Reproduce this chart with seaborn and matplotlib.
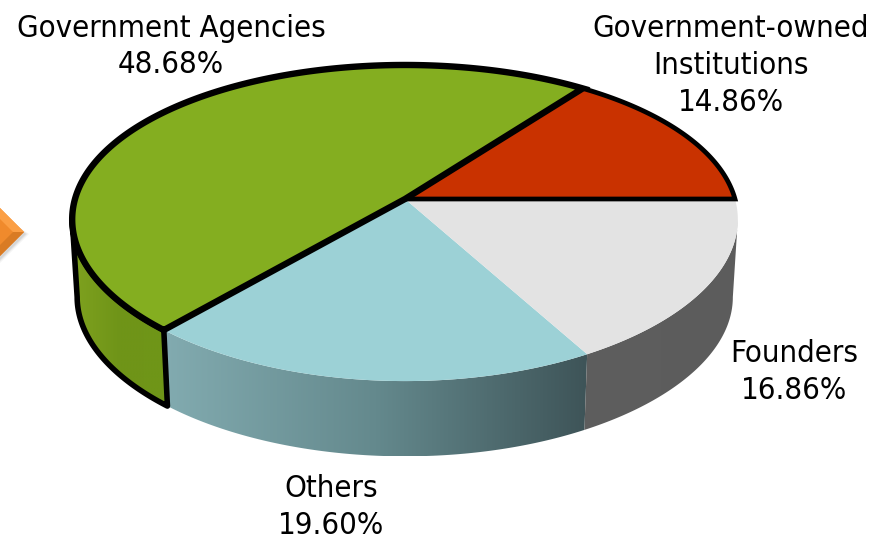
import numpy as np
import matplotlib
matplotlib.use("Agg")
import matplotlib.pyplot as plt
from matplotlib.colors import LinearSegmentedColormap
from matplotlib.patches import Polygon
import seaborn as sns

# Ownership shares, listed counter-clockwise from the east of the disc
labels = ["Government-owned\nInstitutions", "Government Agencies", "Others", "Founders"]
shares = [14.86, 48.68, 19.60, 16.86]
top_colors = ["#C93200", "#84AE20", "#9CD1D6", "#E3E3E3"]

sns.set_theme(style="white")
plt.rcParams["font.family"] = ["DejaVu Sans"]
palette = sns.color_palette(top_colors)

# Perspective of the tilted disc (pixel units)
APEX_X, APEX_Y = 405.0, 199.0
RADIUS_X, RADIUS_Y = 330.0, 154.4
TILT_X, TILT_Y = 0.13, 0.152
DEPTH = 78.0
BASE_SCALE = 0.985


def rim(angle_deg, scale=1.0, drop=0.0):
    a = np.radians(angle_deg)
    x = APEX_X + scale * RADIUS_X * np.cos(a) / (1 + TILT_X * np.sin(a))
    y = APEX_Y - scale * RADIUS_Y * np.sin(a) / (1 + TILT_Y * np.sin(a)) + drop
    return np.column_stack([x, y])


def wall_outline(a0, a1):
    angles = np.linspace(a0, a1, 120)
    return np.vstack([rim(angles), rim(angles[::-1], BASE_SCALE, DEPTH)])


def shaded_wall(ax, a0, a1, stops, edge=None, lw=0.0):
    pts = wall_outline(a0, a1)
    poly = Polygon(pts, closed=True, facecolor="none", edgecolor="none", zorder=1)
    ax.add_patch(poly)
    cmap = LinearSegmentedColormap.from_list("wall", stops)
    x0, x1 = pts[:, 0].min(), pts[:, 0].max()
    y0, y1 = pts[:, 1].min(), pts[:, 1].max()
    img = ax.imshow(np.linspace(0, 1, 256)[None, :], cmap=cmap, aspect="auto",
                    extent=(x0, x1, y1, y0), zorder=1)
    img.set_clip_path(poly)
    if edge:
        ax.add_patch(Polygon(pts, closed=True, facecolor="none", edgecolor=edge,
                             linewidth=lw, joinstyle="round", zorder=1.5))


fig = plt.figure(figsize=(8.75, 5.4), dpi=100)
ax = fig.add_axes([0, 0, 1, 1])

edges = np.concatenate([[0.0], np.cumsum(shares)]) * 3.6
red_end, green_end, others_end = edges[1], edges[2], edges[3]
left_tangent = 180 + np.degrees(np.arcsin(TILT_X))
right_tangent = 360 - np.degrees(np.arcsin(TILT_X))

# Side walls, seen only on the near half of the disc
shaded_wall(ax, green_end, others_end, ["#82ABB0", "#64898D", "#3E5458"])
shaded_wall(ax, others_end, right_tangent, ["#5E5E5E", "#5C5C5C"])
shaded_wall(ax, left_tangent, green_end, ["#7FA21F", "#6F9418", "#6F9618"],
            edge="black", lw=4.0)

# Top faces; the outlined slices go last so their strokes stay on top
widths = {0: 3.4, 1: 4.6}
for i in [2, 3, 0, 1]:
    angles = np.linspace(edges[i], edges[i + 1], 240)
    pts = np.vstack([[APEX_X, APEX_Y], rim(angles)])
    outlined = i in widths
    ax.add_patch(Polygon(pts, closed=True, facecolor=palette[i],
                         edgecolor="black" if outlined else "none",
                         linewidth=widths.get(i, 0),
                         joinstyle="miter" if outlined else "round",
                         zorder=2 + i * 0.1 + (i < 2)))

# Orange arrow entering from the left margin, with a soft drop shadow
for grow, alpha in [(4.0, 0.06), (2.5, 0.08), (1.0, 0.12)]:
    ax.add_patch(Polygon([[0, 210 + grow], [25 + grow, 234], [0, 259 + grow]], closed=True,
                         facecolor="#555555", edgecolor="none", alpha=alpha, zorder=3))
ax.add_patch(Polygon([[0, 208], [24, 232], [0, 256]], closed=True,
                     facecolor="#F08A2C", edgecolor="none", zorder=3.1))
ax.add_patch(Polygon([[0, 208], [24, 232], [13, 232], [0, 219]], closed=True,
                     facecolor="#FB9F45", edgecolor="none", zorder=3.2))
ax.add_patch(Polygon([[0, 256], [24, 232], [13, 232], [0, 245]], closed=True,
                     facecolor="#D97B24", edgecolor="none", zorder=3.2))

# Slice captions
positions = [(731, 65.5), (171, 46.5), (331, 507), (794, 372)]
for label, share, (x, y) in zip(labels, shares, positions):
    ax.text(x, y, f"{label}\n{share:.2f}%", ha="center", va="center",
            fontsize=22.3, stretch="condensed", color="black", linespacing=1.33, zorder=5)

ax.set_xlim(0, 875)
ax.set_ylim(540, 0)
ax.axis("off")
fig.savefig("out.png", dpi=100, facecolor="white")
